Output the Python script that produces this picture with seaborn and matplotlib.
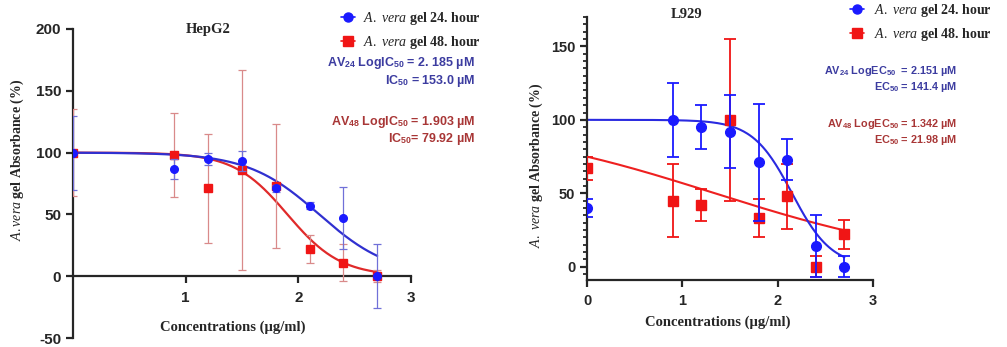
import numpy as np
import pandas as pd
import matplotlib
matplotlib.use('Agg')
import matplotlib.pyplot as plt
from matplotlib.lines import Line2D
from matplotlib.ticker import MultipleLocator
import seaborn as sns

# data (log concentration, % absorbance)
conc = [0, 0.9, 1.2, 1.5, 1.8, 2.1, 2.4, 2.7]

hep_24 = [100, 87, 95, 93, 71, 57, 47, 0]
hep_24_err = [30, 8, 5, 8, 3, 3, 25, 26]
hep_48 = [100, 98, 71, 86, 73, 22, 11, 0]
hep_48_err = [35, 34, 44, 81, 50, 11, 15, 5]

l929_24 = [40, 100, 95, 92, 71, 73, 14, 0]
l929_24_err = [6, 25, 15, 25, 40, 14, 21, 7]
l929_48 = [67, 45, 42, 100, 33, 48, 0, 22]
l929_48_err = [8, 25, 11, 55, 13, 22, 7, 10]

# fitted curves (log IC50 / EC50 from the figure, hill slope estimated)
hep_fit_24 = (2.185, 1.37)
hep_fit_48 = (1.903, 1.83)
l929_fit_24 = (2.151, 2.1)
l929_fit_48 = (1.342, 0.355)

hep_notes = [r'AV$_{\mathbf{24}}$ LogIC$_{\mathbf{50}}$ = 2. 185 µM', r'IC$_{\mathbf{50}}$ = 153.0 µM',
             r'AV$_{\mathbf{48}}$ LogIC$_{\mathbf{50}}$ = 1.903 µM', r'IC$_{\mathbf{50}}$= 79.92 µM']
l929_notes = [r'AV$_{\mathbf{24}}$ LogEC$_{\mathbf{50}}$  = 2.151 µM', r'EC$_{\mathbf{50}}$ = 141.4 µM',
              r'AV$_{\mathbf{48}}$ LogEC$_{\mathbf{50}}$ = 1.342 µM', r'EC$_{\mathbf{50}}$ = 21.98 µM']

BLUE = '#1a1aff'
RED = '#f01515'
NOTE_BLUE = '#3c3ca0'
NOTE_RED = '#a83636'

sns.set_style('ticks')
plt.rcParams['font.family'] = ['Liberation Sans', 'DejaVu Sans']
plt.rcParams['axes.unicode_minus'] = False
plt.rcParams['mathtext.fontset'] = 'custom'
plt.rcParams['mathtext.it'] = 'Liberation Serif:italic'
plt.rcParams['mathtext.bf'] = 'Liberation Sans:bold'
plt.rcParams['mathtext.rm'] = 'Liberation Serif'

W, H = 1007, 347
fig = plt.figure(figsize=(W / 100, H / 100), dpi=100)


def px(x, y):
    return x / W, 1 - y / H


def curve(fit, x):
    logc, hill = fit
    return 100 / (1 + 10 ** ((x - logc) * hill))


xs = np.linspace(0, 2.7, 200)
serif = dict(family='Liberation Serif', weight='bold')

# ---------- HepG2 ----------
ax1 = fig.add_axes([73 / W, 9 / H, 338 / W, 309 / H])
fits = pd.DataFrame({'x': np.r_[xs, xs],
                     'y': np.r_[curve(hep_fit_48, xs), curve(hep_fit_24, xs)],
                     'grp': ['48'] * len(xs) + ['24'] * len(xs)})
sns.lineplot(data=fits, x='x', y='y', hue='grp', palette={'24': '#3030d0', '48': '#e02a2a'},
             lw=1.6, legend=False, ax=ax1, sort=False)
ax1.errorbar(conc, hep_48, yerr=hep_48_err, fmt='s', color=RED, ms=5.5, ecolor='#d98a8a',
             elinewidth=0.9, capsize=3, capthick=0.9, zorder=3)
ax1.errorbar(conc, hep_24, yerr=hep_24_err, fmt='o', color=BLUE, ms=5.5, ecolor='#7070d8',
             elinewidth=0.9, capsize=3, capthick=0.9, zorder=4)
ax1.set_xlim(0, 3)
ax1.set_ylim(-50, 200)
ax1.set_xticks([1, 2, 3])
ax1.set_yticks([-50, 0, 50, 100, 150, 200])
ax1.spines['bottom'].set_position(('data', 0))
ax1.spines['bottom'].set_bounds(0, 3)
ax1.spines['top'].set_visible(False)
ax1.spines['right'].set_visible(False)
for s in ('left', 'bottom'):
    ax1.spines[s].set_linewidth(1.6)
ax1.tick_params(width=1.6, length=5, labelsize=11)
ax1.tick_params(axis='x', pad=6)
for lab in ax1.get_xticklabels() + ax1.get_yticklabels():
    lab.set_fontweight('bold')
ax1.set_xlabel('')
ax1.set_ylabel('')

# ---------- L929 ----------
ax2 = fig.add_axes([587 / W, 67 / H, 286 / W, 263 / H])
fits2 = pd.DataFrame({'x': np.r_[xs, xs],
                      'y': np.r_[curve(l929_fit_48, xs), curve(l929_fit_24, xs)],
                      'grp': ['48'] * len(xs) + ['24'] * len(xs)})
sns.lineplot(data=fits2, x='x', y='y', hue='grp', palette={'24': '#2a2ae0', '48': '#ee2020'},
             lw=1.5, legend=False, ax=ax2, sort=False)
ax2.errorbar(conc, l929_48, yerr=l929_48_err, fmt='s', color=RED, ms=7, ecolor=RED,
             elinewidth=1.3, capsize=4, capthick=1.3, zorder=3)
ax2.errorbar(conc, l929_24, yerr=l929_24_err, fmt='o', color=BLUE, ms=7, ecolor=BLUE,
             elinewidth=1.3, capsize=4, capthick=1.3, zorder=4)
ax2.set_xlim(0, 3)
ax2.set_ylim(-9, 170)
ax2.set_xticks([0, 1, 2, 3])
ax2.set_yticks([0, 50, 100, 150])
ax2.yaxis.set_minor_locator(MultipleLocator(5))
ax2.spines['top'].set_visible(False)
ax2.spines['right'].set_visible(False)
for s in ('left', 'bottom'):
    ax2.spines[s].set_linewidth(1.6)
ax2.tick_params(width=1.6, length=5, labelsize=10.5)
ax2.tick_params(axis='y', which='minor', width=1.3, length=3, left=True)
ax2.tick_params(axis='x', pad=5)
for lab in ax2.get_xticklabels() + ax2.get_yticklabels():
    lab.set_fontweight('bold')
ax2.set_xlabel('')
ax2.set_ylabel('')

# ---------- text ----------
fig.text(*px(208, 29), 'HepG2', ha='center', va='center', fontsize=10.5, **serif)
fig.text(*px(687, 15), 'L929', ha='center', va='center', fontsize=10.5, **serif)

fig.text(*px(17, 160), r'$\mathit{A.vera}$ gel Absorbance (%)', rotation=90,
         ha='center', va='center', fontsize=10, **serif)
fig.text(*px(536, 165), r'$\mathit{A.\ vera}$ gel Absorbance (%)', rotation=90,
         ha='center', va='center', fontsize=10, **serif)
fig.text(*px(233, 327), 'Concentrations (µg/ml)', ha='center', va='center', fontsize=10.5, **serif)
fig.text(*px(718, 322), 'Concentrations (µg/ml)', ha='center', va='center', fontsize=10.5, **serif)

for (x, ys, notes, fs) in [(475, [63, 81, 122, 139], hep_notes, 9.0),
                           (957, [71, 87, 124, 140], l929_notes, 7.8)]:
    for y, t, c in zip(ys, notes, [NOTE_BLUE, NOTE_BLUE, NOTE_RED, NOTE_RED]):
        fig.text(*px(x, y), t, ha='right', va='center', fontsize=fs, color=c,
                 family='Liberation Sans', weight='bold')

labels = [r'$\mathit{A.\ vera}$ gel 24. hour', r'$\mathit{A.\ vera}$ gel 48. hour']
for ax, (lx, ty), pad in [(ax1, (341, 10), 0.58), (ax2, (850, 2), 0.73)]:
    handles = [Line2D([], [], color=BLUE, marker='o', ms=6.5, lw=1.2),
               Line2D([], [], color=RED, marker='s', ms=6.5, lw=1.2)]
    ax.legend(handles, labels, loc='upper left', bbox_to_anchor=px(lx, ty),
              bbox_transform=fig.transFigure, frameon=False, borderpad=0, borderaxespad=0,
              handlelength=1.0, handletextpad=pad, labelspacing=0.5,
              prop=dict(family='Liberation Serif', weight='bold', size=10))

fig.savefig('out.png', dpi=100)
